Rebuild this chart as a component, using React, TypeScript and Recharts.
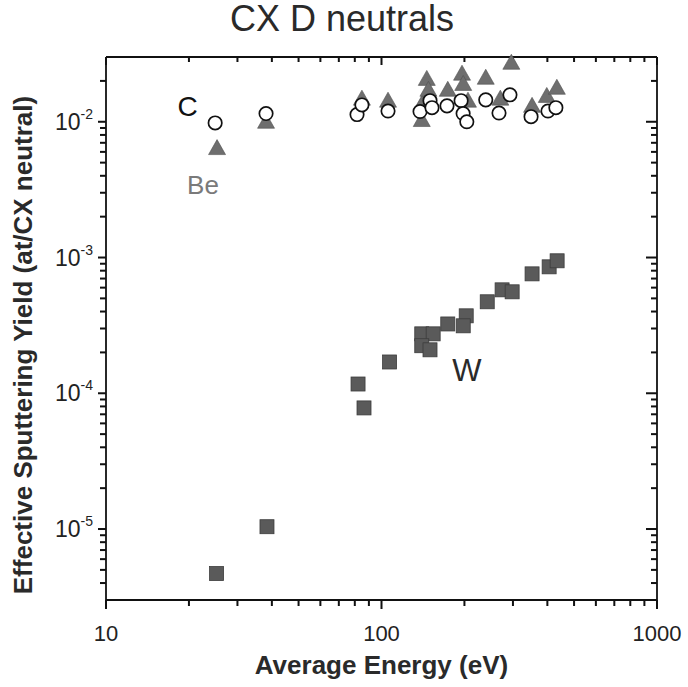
import { FC, CSSProperties } from 'react';
import {
	ScatterChart,
	Scatter,
	XAxis,
	YAxis,
	ReferenceDot,
	ReferenceLine,
	Label,
} from 'recharts';

const FONT = '"Liberation Sans", Arial, Helvetica, sans-serif';
const INK = '#111111';

const xDomain = [10, 1000];
const yDomain = [3e-6, 3e-2];

// tick values (log axes)
const xMajor = [10, 100, 1000];
const xMinor = [20, 30, 40, 50, 60, 70, 80, 90, 200, 300, 400, 500, 600, 700, 800, 900];
const yMajor = [1e-5, 1e-4, 1e-3, 1e-2];
const yMinor = [
	4e-6, 5e-6, 6e-6, 7e-6, 8e-6, 9e-6,
	2e-5, 3e-5, 4e-5, 5e-5, 6e-5, 7e-5, 8e-5, 9e-5,
	2e-4, 3e-4, 4e-4, 5e-4, 6e-4, 7e-4, 8e-4, 9e-4,
	2e-3, 3e-3, 4e-3, 5e-3, 6e-3, 7e-3, 8e-3, 9e-3,
	2e-2,
];

// W (squares)
const wEnergy = [25.2, 38.4, 82.2, 86.4, 107, 140, 154, 140, 150, 174, 203, 198, 242, 274, 298, 352, 406, 434];
const wYield = [4.7e-6, 1.04e-5, 1.17e-4, 7.8e-5, 1.7e-4, 2.74e-4, 2.74e-4, 2.24e-4, 2.09e-4, 3.24e-4, 3.72e-4, 3.14e-4, 4.72e-4, 5.78e-4, 5.59e-4, 7.58e-4, 8.54e-4, 9.46e-4];

// C (open circles)
const cEnergy = [24.9, 38.1, 81.5, 84.9, 105.6, 138, 150, 152.5, 172.9, 194.5, 197.8, 204, 239, 267, 292.6, 349, 402, 429.5];
const cYield = [9.8e-3, 1.15e-2, 1.13e-2, 1.33e-2, 1.2e-2, 1.19e-2, 1.43e-2, 1.27e-2, 1.31e-2, 1.43e-2, 1.15e-2, 1.0e-2, 1.45e-2, 1.16e-2, 1.58e-2, 1.09e-2, 1.2e-2, 1.27e-2];

// Be (triangles)
const beEnergy = [25.3, 38.1, 84.9, 105.6, 140, 143, 146, 148, 174, 196, 198, 206, 239, 270, 296, 352, 398, 433];
const beYield = [6.4e-3, 1.0e-2, 1.48e-2, 1.43e-2, 1.03e-2, 1.45e-2, 2.07e-2, 1.72e-2, 1.72e-2, 2.26e-2, 1.9e-2, 1.43e-2, 2.11e-2, 1.48e-2, 2.72e-2, 1.31e-2, 1.55e-2, 1.78e-2];

const toPoints = (xs: number[], ys: number[]) => xs.map((x, i) => ({ x, y: ys[i] }));

const wData = toPoints(wEnergy, wYield);
const cData = toPoints(cEnergy, cYield);
const beData = toPoints(beEnergy, beYield);

// tick marks sit on the frame edges, placed through the same scales
const bottomMajor = xMajor.map((x) => ({ x, y: yDomain[0] }));
const bottomMinor = xMinor.map((x) => ({ x, y: yDomain[0] }));
const topMajor = xMajor.map((x) => ({ x, y: yDomain[1] }));
const topMinor = xMinor.map((x) => ({ x, y: yDomain[1] }));
const leftMajor = yMajor.map((y) => ({ x: xDomain[0], y }));
const leftMinor = yMinor.map((y) => ({ x: xDomain[0], y }));
const rightMajor = yMajor.map((y) => ({ x: xDomain[1], y }));
const rightMinor = yMinor.map((y) => ({ x: xDomain[1], y }));

const Square = ({ cx, cy }: any) => (
	<rect x={cx - 7} y={cy - 7} width={14} height={14} fill="#5a5a5a" stroke="#3c3c3c" strokeWidth={0.8} />
);

const Circle = ({ cx, cy }: any) => (
	<circle cx={cx} cy={cy} r={6.7} fill="#fff" stroke={INK} strokeWidth={1.7} />
);

const Triangle = ({ cx, cy }: any) => (
	<polygon
		points={`${cx},${cy - 8.5} ${cx - 8.5},${cy + 6.5} ${cx + 8.5},${cy + 6.5}`}
		fill="#6e6e6e"
		stroke="#505050"
		strokeWidth={0.6}
	/>
);

// vertical mark going down from the point, horizontal mark going left
const VMark = ({ cx, cy, len }: any) => <rect x={cx - 1} y={cy} width={2} height={len} fill={INK} />;
const HMark = ({ cx, cy, len }: any) => <rect x={cx - len} y={cy - 1} width={len} height={2} fill={INK} />;

const BottomTick = ({ x, y, payload }: any) => (
	<text x={x} y={y + 41} textAnchor="middle" fontSize={22} fontFamily={FONT} fill="#222">
		{payload.value}
	</text>
);

const LeftTick = ({ x, y, payload }: any) => (
	<text x={x - 13} y={y + 8} textAnchor="end" fontFamily={FONT} fill="#222">
		<tspan fontSize={23}>10</tspan>
		<tspan fontSize={14} dy={-11}>{Math.round(Math.log10(payload.value))}</tspan>
	</text>
);

const axisLine = { stroke: INK, strokeWidth: 1.8 };

const textBase: CSSProperties = {
	position: 'absolute',
	fontFamily: FONT,
	color: '#2a2a2a',
	whiteSpace: 'nowrap',
	textAlign: 'center',
	pointerEvents: 'none',
};

const App: FC = () => (
	<div style={{ position: 'absolute', left: 0, top: 0, width: 688, height: 687 }}>
		<ScatterChart width={688} height={687} margin={{ top: 57, right: 31, bottom: 0, left: 0 }}>
			<XAxis
				xAxisId="b"
				dataKey="x"
				type="number"
				scale="log"
				domain={xDomain}
				ticks={xMajor}
				interval={0}
				height={87}
				tickSize={0}
				tickMargin={0}
				tickLine={false}
				axisLine={axisLine}
				tick={<BottomTick />}
			/>
			<YAxis
				yAxisId="l"
				dataKey="y"
				type="number"
				scale="log"
				domain={yDomain}
				ticks={yMajor}
				interval={0}
				width={106}
				tickSize={0}
				tickMargin={0}
				tickLine={false}
				axisLine={axisLine}
				tick={<LeftTick />}
			/>
			<ReferenceLine xAxisId="b" yAxisId="l" x={xDomain[1]} stroke={INK} strokeWidth={1.8} ifOverflow="visible" />
			<ReferenceLine xAxisId="b" yAxisId="l" y={yDomain[1]} stroke={INK} strokeWidth={1.8} ifOverflow="visible" />
			<Scatter xAxisId="b" yAxisId="l" data={bottomMajor} shape={<VMark len={9} />} isAnimationActive={false} />
			<Scatter xAxisId="b" yAxisId="l" data={bottomMinor} shape={<VMark len={6} />} isAnimationActive={false} />
			<Scatter xAxisId="b" yAxisId="l" data={topMajor} shape={<VMark len={8} />} isAnimationActive={false} />
			<Scatter xAxisId="b" yAxisId="l" data={topMinor} shape={<VMark len={5} />} isAnimationActive={false} />
			<Scatter xAxisId="b" yAxisId="l" data={leftMajor} shape={<HMark len={8} />} isAnimationActive={false} />
			<Scatter xAxisId="b" yAxisId="l" data={leftMinor} shape={<HMark len={6} />} isAnimationActive={false} />
			<Scatter xAxisId="b" yAxisId="l" data={rightMajor} shape={<HMark len={11} />} isAnimationActive={false} />
			<Scatter xAxisId="b" yAxisId="l" data={rightMinor} shape={<HMark len={6} />} isAnimationActive={false} />
			<Scatter xAxisId="b" yAxisId="l" data={wData} shape={<Square />} isAnimationActive={false} />
			<Scatter xAxisId="b" yAxisId="l" data={beData} shape={<Triangle />} isAnimationActive={false} />
			<Scatter xAxisId="b" yAxisId="l" data={cData} shape={<Circle />} isAnimationActive={false} />
			<ReferenceDot xAxisId="b" yAxisId="l" x={19.8} y={1.31e-2} r={0} fill="none" stroke="none">
				<Label value="C" position="center" fontSize={28} fontFamily={FONT} fill="#111" />
			</ReferenceDot>
			<ReferenceDot xAxisId="b" yAxisId="l" x={22.5} y={3.43e-3} r={0} fill="none" stroke="none">
				<Label value="Be" position="center" fontSize={26} fontFamily={FONT} fill="#7a7a7a" />
			</ReferenceDot>
			<ReferenceDot xAxisId="b" yAxisId="l" x={204} y={1.49e-4} r={0} fill="none" stroke="none">
				<Label value="W" position="center" fontSize={31} fontFamily={FONT} fill="#2a2a2a" />
			</ReferenceDot>
		</ScatterChart>
		<div style={{ ...textBase, left: 0, top: 1, width: 684, fontSize: 36, lineHeight: '36px' }}>
			CX D neutrals
		</div>
		<div style={{ ...textBase, left: 106, top: 652, width: 551, fontSize: 26, lineHeight: '26px', fontWeight: 'bold' }}>
			Average Energy (eV)
		</div>
		<div
			style={{
				...textBase,
				left: 23 - 300,
				top: 345 - 13,
				width: 600,
				height: 26,
				fontSize: 26,
				lineHeight: '26px',
				fontWeight: 'bold',
				transform: 'rotate(-90deg)',
			}}>
			Effective Sputtering Yield (at/CX neutral)
		</div>
	</div>
);

export default App;
